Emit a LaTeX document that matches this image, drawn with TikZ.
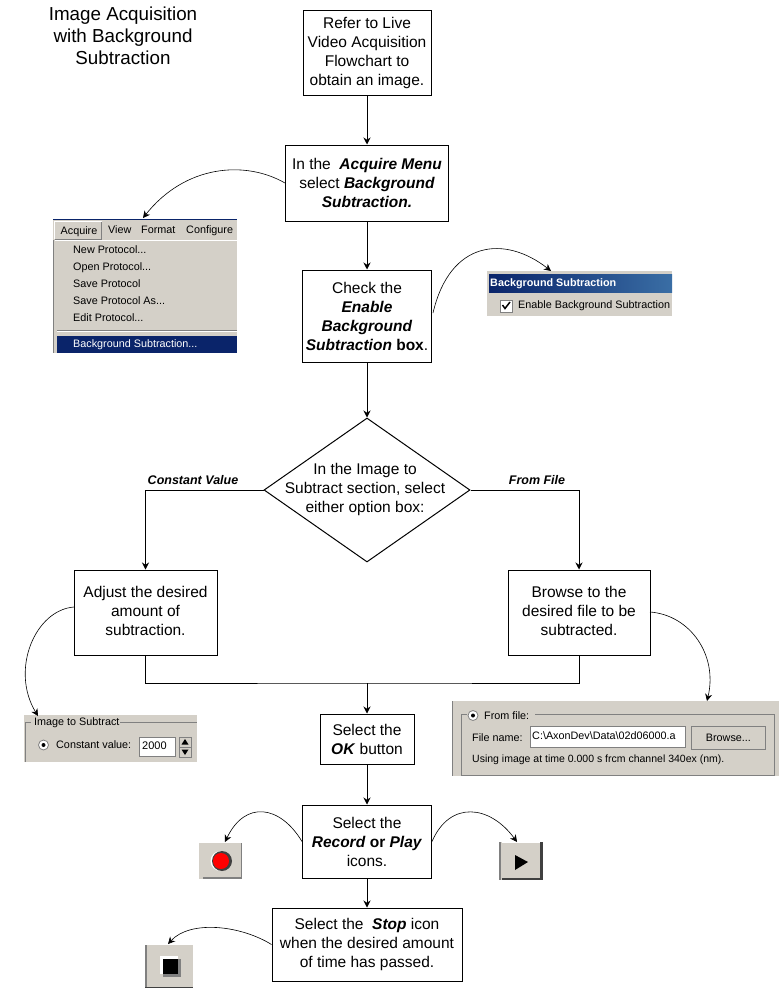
\documentclass[tikz,border=0pt]{standalone}
\usepackage{fontspec}
\setmainfont{Liberation Sans}
\usetikzlibrary{arrows.meta,shapes.geometric}
\definecolor{ui}{HTML}{D4D0C8}
\definecolor{navy}{HTML}{0A246A}
\definecolor{barend}{HTML}{3A6EA5}
\definecolor{uishade}{HTML}{808080}
\definecolor{uidark}{HTML}{404040}
\newcommand{\bi}[1]{\textbf{\textit{#1}}}
\newcommand{\lift}{\rule[-4pt]{0pt}{4pt}}
\tikzset{
  x=1pt,y=-1pt,
  flowbox/.style={draw,line width=1pt,inner sep=0pt,align=center,font=\fontsize{15.5}{19}\selectfont},
  title/.style={align=center,font=\fontsize{18.8}{22}\selectfont,inner sep=0pt},
  edgelbl/.style={inner sep=0pt,font=\fontsize{12.5}{15}\selectfont\bfseries\itshape},
  link/.style={line width=0.9pt,-{Stealth[length=7pt,width=7pt]}},
  thin link/.style={line width=0.6pt,-{Stealth[length=7pt,width=7pt]}},
  plain/.style={line width=0.9pt},
  panel/.style={fill=ui,inner sep=0pt,anchor=north west},
  uitext/.style={anchor=west,inner sep=0pt,text height=8pt,text depth=2pt,font=\fontsize{10.8}{12}\selectfont},
  field/.style={fill=white,draw=uishade,line width=0.8pt,anchor=north west,inner sep=0pt},
}
\begin{document}
\begin{tikzpicture}
\useasboundingbox (0,0) rectangle (784,993);
\fill[white] (0,0) rectangle (784,993);

\node[title] (ttl) at (123,36) {Image Acquisition\\with Background\\Subtraction};

% flow boxes
\node[flowbox,minimum width=128pt,minimum height=85pt] (b1) at (367,52.5) {Refer to Live\\Video Acquisition\\Flowchart to\\obtain an image.};
\node[flowbox,minimum width=163pt,minimum height=76pt] (b2) at (367,183) {In the\ \ \bi{Acquire Menu}\\select \bi{Background}\\\bi{Subtraction.}};
\node[flowbox,minimum width=129pt,minimum height=92pt] (b3) at (367,316) {Check the\\\bi{Enable}\\\bi{Background}\\\bi{Subtraction} \textbf{box}.};
\node[draw,line width=1pt,shape=diamond,inner sep=0pt,shape aspect=1.43,minimum width=206pt,minimum height=144pt,font=\fontsize{15.5}{19}\selectfont] (d) at (367,490)
  {\raisebox{-6pt}{\smash{\makebox[0pt]{\begin{tabular}{@{}c@{}}In the Image to\\Subtract section, select\\either option box:\end{tabular}\hspace{4pt}}}}};
\node[flowbox,minimum width=143pt,minimum height=85pt] (b4) at (145.5,612.5) {Adjust the desired\\amount of\\subtraction.\lift};
\node[flowbox,minimum width=142pt,minimum height=85pt] (b5) at (579,612.5) {Browse to the\\desired file to be\\subtracted.\lift};
\node[flowbox,minimum width=94pt,minimum height=50pt] (b6) at (367,739) {Select the\\\bi{OK} button};
\node[flowbox,minimum width=129pt,minimum height=73pt] (b7) at (367,841.5) {Select the\\\bi{Record} \textbf{or} \bi{Play}\\icons.};
\node[flowbox,minimum width=190pt,minimum height=73pt] (b8) at (367,944.5) {Select the\ \ \bi{Stop} icon\\when the desired amount\\of time has passed.};

% menu panel
\node[panel,minimum width=184pt,minimum height=134pt] (menu) at (53,219) {};
\fill[navy] (53,219) rectangle (237,220);
\draw[white,line width=0.8pt] (54.5,239) -- (54.5,221.5) -- (101.5,221.5);
\draw[uishade,line width=0.8pt] (101.5,221.5) -- (101.5,239) -- (54.5,239);
\draw[white,line width=0.8pt] (55,240.5) -- (237,240.5);
\draw[uishade,line width=0.8pt] (53.5,240) -- (53.5,353);
\node[uitext] (m1) at (60.5,231) {Acquire};
\node[uitext] (m2) at (108,230) {View};
\node[uitext] (m3) at (141,230) {Format};
\node[uitext] (m4) at (186,230) {Configure};
\node[uitext] (m5) at (73,250) {New Protocol...};
\node[uitext] (m6) at (73,267) {Open Protocol...};
\node[uitext] (m7) at (73,284) {Save Protocol};
\node[uitext] (m8) at (73,301) {Save Protocol As...};
\node[uitext] (m9) at (73,318) {Edit Protocol...};
\draw[uishade,line width=0.8pt] (57,330.5) -- (237,330.5);
\draw[white,line width=0.8pt] (57,331.5) -- (237,331.5);
\fill[navy] (57,336) rectangle (237,353);
\node[uitext,text=white] (m10) at (73,344) {Background Subtraction...};

% background subtraction panel
\node[panel,minimum width=185pt,minimum height=45pt] (bsp) at (487,271) {};
\fill[left color=navy,right color=barend] (489,274) rectangle (672,292);
\node[uitext,text=white,font=\fontsize{10.8}{12}\selectfont\bfseries] (bst) at (490,283) {Background Subtraction};
\node[field,minimum width=12pt,minimum height=12pt] (chk) at (500,299.5) {};
\draw[line width=1.5pt] (502.5,305) -- (505,308.5) -- (510,302);
\node[uitext] (bsl) at (518,305.5) {Enable Background Subtraction};

% image to subtract panel
\node[panel,minimum width=173pt,minimum height=47pt] (its) at (24,715) {};
\draw[uishade,line width=0.8pt] (25,762) -- (25,722.5) -- (31,722.5) (120,722.5) -- (197,722.5);
\node[uitext] (itst) at (34,722) {Image to Subtract};
\node[circle,fill=white,draw=uishade,line width=0.8pt,minimum size=10pt,inner sep=0pt] (r1) at (43.5,745) {};
\fill (43.5,745) circle (2pt);
\node[uitext] (cvl) at (56,745.5) {Constant value:};
\node[field,minimum width=36pt,minimum height=19pt] (cvf) at (139,737) {};
\node[uitext,font=\fontsize{11}{12}\selectfont] (cvv) at (142,746.5) {2000};
\node[draw=uishade,fill=ui,line width=0.6pt,anchor=north west,minimum width=12pt,minimum height=9.5pt,inner sep=0pt] (spu) at (179,737) {};
\node[draw=uishade,fill=ui,line width=0.6pt,anchor=north west,minimum width=12pt,minimum height=9.5pt,inner sep=0pt] (spd) at (179,747) {};
\fill (185,739) -- (181.5,744.5) -- (188.5,744.5) -- cycle;
\fill (185,755) -- (181.5,749.5) -- (188.5,749.5) -- cycle;

% from file panel
\node[panel,minimum width=327pt,minimum height=75pt] (ffp) at (452,701) {};
\draw[uishade,line width=0.8pt] (452.5,701) -- (452.5,776);
\draw[uishade,line width=0.8pt] (461,775) -- (461,714.5) -- (467,714.5) (535,714.5) -- (774,714.5) -- (774,775) -- (461,775);
\node[circle,fill=white,draw=uishade,line width=0.8pt,minimum size=10pt,inner sep=0pt] (r2) at (473,715.5) {};
\fill (473,715.5) circle (2pt);
\node[uitext] (ffl) at (484,716) {From file:};
\node[uitext] (fnl) at (472,738) {File name:};
\node[field,minimum width=155pt,minimum height=21pt] (fnf) at (530,726) {};
\node[uitext] (fnv) at (532,736.5) {C:\textbackslash AxonDev\textbackslash Data\textbackslash 02d06000.a};
\node[draw=uishade,fill=ui,line width=0.8pt,anchor=north west,minimum width=74pt,minimum height=23pt,inner sep=0pt,font=\fontsize{10.8}{12}\selectfont] (brw) at (691,726) {Browse...};
\node[uitext,font=\fontsize{10.5}{12}\selectfont] (usg) at (472,759) {Using image at time 0.000 s frcm channel 340ex (nm).};

% record icon
\node[panel,minimum width=44pt,minimum height=37pt] (rec) at (198,842) {};
\draw[white,line width=1pt] (198.5,879) -- (198.5,842.5) -- (242,842.5);
\draw[uishade,line width=2pt] (203,878) -- (242,878);
\draw[uishade,line width=1pt] (241,843) -- (241,878);
\fill[white] (220.5,861) circle (10pt);
\fill[uidark] (222,861) circle (10pt);
\fill[red] (221,861) circle (8pt);

% play icon
\node[panel,minimum width=44pt,minimum height=38pt] (ply) at (499,842) {};
\draw[white,line width=1pt] (502,842.5) -- (540,842.5);
\draw[uishade,line width=2pt] (500,842) -- (500,880);
\fill[uidark] (539.5,842) rectangle (543,880);
\fill[uidark] (502,878) rectangle (539.5,880);
\fill (515,855) -- (528,862) -- (515,870) -- cycle;

% stop icon
\node[panel,minimum width=48pt,minimum height=43pt] (stp) at (145,945) {};
\draw[uishade,line width=2pt] (146,945) -- (146,988);
\fill[uidark] (145,986.5) rectangle (193,988);
\fill[white] (160,956) rectangle (178,974);
\fill[uishade] (163,959) rectangle (181,976.5);
\fill[black] (163,959) rectangle (178,974);

% connectors
\draw[link] (b1.south) -- (b2.north);
\draw[link] (b2.south) -- (b3.north);
\draw[link] (b3.south) -- (d.north);
\draw[link] (d.west) -- (145.5,490) -- (b4.north);
\draw[link] (d.east) -- (579,490) -- (b5.north);
\coordinate (mrg) at (367,683);
\draw[plain] (b4.south) -- (145.5,683) -- (mrg) -- (579,683) -- (b5.south);
\draw[link] (mrg) -- (b6.north);
\draw[link] (b6.south) -- (b7.north);
\draw[link] (b7.south) -- (b8.north);

\coordinate (menuin) at (143,218);
\draw[thin link] (b2.west) .. controls (245,160) and (185,165) .. (menuin);
\coordinate (bsin) at (551,271);
\draw[thin link] (433,313) .. controls (450,240) and (505,235) .. (bsin);
\coordinate (itsin) at (38,716);
\draw[thin link] (74,607) .. controls (35,610) and (10,670) .. (itsin);
\coordinate (ffin) at (707,701);
\draw[thin link] (650,612) .. controls (690,615) and (718,655) .. (ffin);
\coordinate (recin) at (225,842);
\draw[thin link] (b7.west) .. controls (280,805) and (245,800) .. (recin);
\coordinate (plyin) at (517,842);
\draw[thin link] (b7.east) .. controls (450,800) and (490,805) .. (plyin);
\coordinate (stpin) at (168,944);
\draw[thin link] (b8.west) .. controls (240,925) and (190,920) .. (stpin);

\node[edgelbl] (lc) at (193,480) {Constant Value};
\node[edgelbl] (lf) at (537,480) {From File};
\end{tikzpicture}
\end{document}
